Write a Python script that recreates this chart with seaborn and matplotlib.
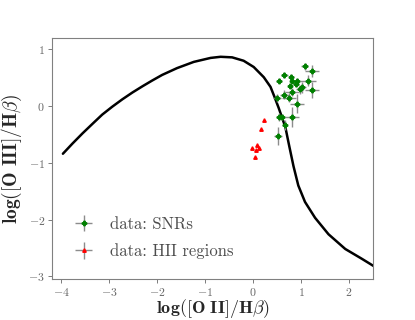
import pandas as pd
import matplotlib
matplotlib.use("Agg")
import matplotlib.pyplot as plt
import seaborn as sns

# model curve
curve_x = [-3.97, -3.77, -3.56, -3.35, -3.15, -2.94, -2.73, -2.52, -2.31, -2.11,
           -1.90, -1.59, -1.24, -0.89, -0.68, -0.44, -0.20, 0.01, 0.22, 0.36,
           0.44, 0.53, 0.67, 0.75, 0.84, 0.94, 1.08, 1.29, 1.57, 1.92, 2.26, 2.51]
curve_y = [-0.84, -0.66, -0.48, -0.31, -0.15, -0.01, 0.12, 0.24, 0.35, 0.45,
           0.55, 0.67, 0.78, 0.85, 0.87, 0.86, 0.80, 0.69, 0.51, 0.34,
           0.17, -0.03, -0.37, -0.70, -1.06, -1.40, -1.69, -1.97, -2.26, -2.52, -2.69, -2.82]

# SNRs
snr_x = [1.07, 1.23, 0.65, 0.79, 0.53, 0.81, 0.92, 1.14, 0.77, 0.89, 1.02, 0.97,
         1.22, 0.81, 0.65, 0.74, 0.50, 0.91, 0.81, 0.54, 0.61, 0.66, 0.52]
snr_y = [0.70, 0.62, 0.55, 0.51, 0.45, 0.45, 0.44, 0.45, 0.36, 0.39, 0.33, 0.30,
         0.29, 0.25, 0.20, 0.15, 0.14, 0.04, -0.19, -0.20, -0.19, -0.34, -0.53]
snr_xerr = [0.07, 0.14, 0.07, 0.05, 0.06, 0.05, 0.06, 0.17, 0.04, 0.07, 0.08, 0.08,
            0.15, 0.14, 0.10, 0.15, 0.08, 0.15, 0.14, 0.07, 0.05, 0.05, 0.08]
snr_yerr = [0.06, 0.11, 0.05, 0.05, 0.04, 0.05, 0.06, 0.09, 0.04, 0.06, 0.10, 0.08,
            0.14, 0.07, 0.08, 0.08, 0.07, 0.17, 0.17, 0.07, 0.05, 0.09, 0.16]

# HII regions
hii_x = [0.22, 0.16, 0.07, 0.11, -0.02, 0.06, 0.03]
hii_y = [-0.24, -0.41, -0.68, -0.73, -0.73, -0.77, -0.90]

sns.set_style("white")
plt.rcParams["font.family"] = ["serif"]
plt.rcParams["font.serif"] = ["cmr10"]
plt.rcParams["mathtext.fontset"] = "cm"
plt.rcParams["axes.formatter.use_mathtext"] = True

fig = plt.figure(figsize=(4.15, 3.2), dpi=100)
ax = fig.add_axes([0.125, 0.128, 0.774, 0.753])

curve = pd.DataFrame({"x": curve_x, "y": curve_y})
sns.lineplot(data=curve, x="x", y="y", sort=False, color="black", lw=1.8, ax=ax)

ax.errorbar(snr_x, snr_y, xerr=snr_xerr, yerr=snr_yerr, fmt="P", ms=3.2,
            color="green", ecolor="0.55", elinewidth=1.0, capsize=0,
            label="data: SNRs", zorder=3)
ax.errorbar(hii_x, hii_y, xerr=[0.0] * len(hii_x), yerr=[0.0] * len(hii_y), fmt="^",
            ms=2.5, color="red", ecolor="0.55", elinewidth=1.0, capsize=0,
            label="data: HII regions", zorder=3)

ax.set_xlim(-4.2, 2.5)
ax.set_ylim(-3.05, 1.2)
ax.set_xticks([-4, -3, -2, -1, 0, 1, 2])
ax.set_yticks([-3, -2, -1, 0, 1])
ax.set_xlabel(r"$\mathbf{log([O\ II]/H\beta)}$", fontsize=13, labelpad=-0.5)
ax.set_ylabel(r"$\mathbf{log([O\ III]/H\beta)}$", fontsize=14, labelpad=3)
ax.tick_params(axis="both", labelsize=8.5, colors="0.4", direction="out",
               length=3, width=0.6, bottom=True, left=True, pad=2)
for sp in ax.spines.values():
    sp.set_color("0.5")
    sp.set_linewidth(0.8)

leg = ax.legend(loc="lower left", frameon=False, fontsize=12,
                bbox_to_anchor=(0.0, 0.02), handletextpad=0.6, labelspacing=0.7)
for t in leg.get_texts():
    t.set_color("0.3")

fig.savefig("out.png", dpi=100)
